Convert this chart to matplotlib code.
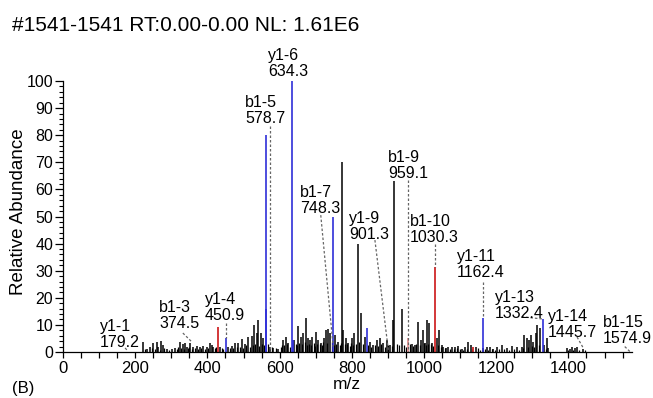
import matplotlib
matplotlib.use("Agg")
import matplotlib.pyplot as plt
from matplotlib.ticker import MultipleLocator

plt.rcParams['font.family'] = ['Liberation Sans', 'DejaVu Sans']

# ---------------- data ----------------
title_text = "#1541-1541 RT:0.00-0.00 NL: 1.61E6"

noise_mz = [222, 233.5, 241, 250, 259.5, 264, 270.6, 276, 287, 301, 309, 324, 331.5, 338, 342.5,
            352, 361, 370, 379.5, 388.6, 398, 407, 412, 416, 435, 458, 467, 476, 485.6, 495, 504,
            513, 522.7, 529, 536.5, 541, 547.6, 555, 573, 582.5, 596, 610, 617, 624, 641, 652, 659,
            666, 672, 678, 684, 690.6, 700, 707, 714.7, 724, 728.5, 735, 739.6, 753.5, 762.6, 772,
            776.5, 783, 790, 800, 807, 816, 826, 836.6, 850, 859.6, 869, 878, 887, 896.6, 905.8,
            915, 917.5, 938, 966, 975, 984, 991, 996, 1003, 1009, 1015, 1021, 1035, 1042, 1049,
            1053, 1061, 1067, 1077, 1086, 1095, 1104, 1114, 1123, 1129, 1144, 1164, 1173.6, 1183,
            1192, 1201, 1215, 1229, 1243, 1257, 1270.6, 1278, 1284.5, 1291, 1296, 1303, 1309, 1314,
            1321, 1333, 1340, 1344, 1395, 1404, 1411, 1418, 1423, 1441]
noise_int = [3.8, 1, 2, 3.4, 3.8, 2, 4.2, 2.6, 1, 1, 1.4, 3.8, 2.8, 3.2, 2,
             3.2, 2, 2.3, 1.8, 2.2, 2, 3.2, 2.6, 1.7, 2, 2, 2.3, 3.2, 3.4, 4.7, 2.8,
             5.7, 5.9, 10, 6.9, 11.8, 7.1, 5.2, 2, 1.4, 1, 4.4, 5.7, 3.2, 4.4, 9.6, 5.7,
             7.1, 12.4, 5, 4.4, 5.7, 7.5, 4.4, 3.2, 5, 8.1, 8.4, 6.9, 6.3, 3.8, 70,
             8.1, 5, 3.2, 5, 6.9, 40, 14.4, 5.7, 3.8, 2.6, 4.4, 5, 3.2, 4.4, 2.6,
             11.8, 63, 16, 3, 2.6, 11.2, 4.4, 8, 3.2, 11.8, 10.6, 3.2, 5, 8.1, 2.6,
             2, 1.4, 1.7, 2, 1.7, 2.2, 1, 1.7, 3.8, 2.6, 2, 1.4, 1.7, 2,
             1, 2, 2.6, 1.4, 2.2, 1.7, 2, 6.3, 5, 4.4, 6.3, 3.8, 6.9, 10,
             8.7, 2.6, 5, 1.4, 1.4, 1, 2, 1.4, 2, 1]

# small baseline clutter peaks
clutter_mz = [228, 246, 255, 268, 281, 293, 315, 319, 328, 335, 346, 349, 356, 365, 375, 383,
              393, 402, 420, 425, 440, 444, 462, 471, 481, 490, 499, 508, 518, 526, 533, 544,
              551, 558, 567, 578, 590, 603, 606, 613, 621, 628, 645, 648, 655, 662, 669, 675,
              681, 687, 694, 697, 704, 711, 718, 721, 732, 744, 751, 757, 766, 769, 780, 787,
              794, 797, 804, 811, 820, 832, 846, 854, 864, 873, 882, 892, 900, 910, 925, 930,
              945, 950, 962, 970, 979, 988, 999, 1006, 1012, 1018, 1025, 1038, 1046, 1057, 1072,
              1082, 1091, 1100, 1109, 1118, 1133, 1150, 1155, 1168, 1178, 1188, 1196, 1207, 1221,
              1236, 1250, 1263, 1275, 1287, 1299, 1306, 1318, 1337, 1400, 1414, 1430, 1446]
clutter_int = [1.0, 1.5, 1.2, 0.8, 1.4, 0.8, 1.2, 1.8, 1.5, 1.0, 1.3, 1.7, 1.2, 1.5, 1.0, 1.4,
               1.2, 1.6, 1.3, 1.8, 1.5, 1.2, 1.6, 1.3, 1.8, 2.0, 1.5, 2.4, 2.0, 2.5, 3.0, 2.2,
               3.1, 2.4, 2.8, 1.8, 1.5, 2.0, 2.6, 2.4, 2.8, 2.0, 3.0, 2.5, 3.2, 2.8, 3.6, 2.4,
               3.0, 2.6, 3.4, 2.2, 2.8, 3.0, 2.4, 3.6, 3.2, 3.8, 2.6, 3.0, 2.4, 3.4, 2.8, 3.0,
               2.2, 3.2, 2.6, 3.0, 3.6, 2.8, 2.4, 2.0, 2.6, 2.2, 2.8, 2.0, 2.4, 2.2, 3.0, 2.6,
               2.4, 2.0, 2.8, 2.2, 3.0, 2.6, 3.2, 2.4, 2.8, 3.0, 2.2, 2.6, 2.0, 1.4, 1.2,
               1.0, 1.3, 1.1, 0.9, 1.2, 1.0, 1.3, 0.9, 1.1, 0.8, 1.2, 0.9, 1.0, 1.2,
               0.8, 1.0, 0.9, 1.4, 2.0, 2.2, 1.8, 2.4, 1.2, 0.8, 0.9, 0.8, 0.7]

blue_mz = [450.9, 561.5, 563.5, 634.3, 636, 748.3, 842, 1162.4, 1329]
blue_int = [5.2, 80, 16, 100, 4.4, 50, 9, 12.5, 12.2]

red_mz = [428.5, 1030.3, 1137]
red_int = [9.3, 31.5, 2]

pink_mz = [957]
pink_int = [5]

ion_names = ["y1-1", "b1-3", "y1-4", "b1-5", "y1-6", "b1-7", "y1-9", "b1-9",
             "b1-10", "y1-11", "y1-13", "y1-14", "b1-15"]
ion_mz_text = ["179.2", "374.5", "450.9", "578.7", "634.3", "748.3", "901.3", "959.1",
               "1030.3", "1162.4", "1332.4", "1445.7", "1574.9"]

# label anchor (left x in m/z, baseline of the m/z line in %)
label_x = [102.5, 267, 393, 504, 568, 657, 792, 900, 961, 1091, 1197, 1343, 1496]
label_y = [1.96, 8.73, 11.8, 84.6, 101.8, 51.4, 41.8, 64.1, 40.7, 27.8, 12.4, 5.6, 3.2]

# dashed connector lines (x0, y0, x1, y1)
connectors = [(172, 1.5, 179.2, 0.4), (332, 7.0, 357, 3.7), (450.9, 10.7, 450.9, 5.2),
              (574, 83.5, 574, 0), (714, 50.5, 748.3, 2), (864, 41.3, 901.3, 0.5),
              (956, 63.5, 956, 0), (1030.3, 40, 1030.3, 31.5), (1162.4, 26, 1162.4, 12.5),
              (1270, 13, 1328, 12.2), (1424, 5.5, 1441, 1.5), (1556, 2, 1570, 0.2)]

# ---------------- figure ----------------
W, H = 653, 398
fig = plt.figure(figsize=(W / 100, H / 100), dpi=100)
ax = fig.add_axes([63 / W, 1 - 352 / H, (631.6 - 63) / W, (352 - 81) / H])

ax.vlines(clutter_mz, 0, clutter_int, color='black', lw=0.9)
ax.vlines(noise_mz, 0, noise_int, color='black', lw=1.1)
ax.vlines(pink_mz, 0, pink_int, color='#e08a8a', lw=1.2)
ax.vlines(red_mz, 0, red_int, color='#d0282a', lw=1.3)
ax.vlines(blue_mz, 0, blue_int, color='#2f2fd8', lw=1.2)

for (x0, y0, x1, y1) in connectors:
    ax.plot([x0, x1], [y0, y1], color='#666666', lw=0.9, ls=(0, (2, 1.6)), clip_on=False)

for name, mzt, lx, ly in zip(ion_names, ion_mz_text, label_x, label_y):
    ax.text(lx, ly, mzt, fontsize=11.5, ha='left', va='baseline', clip_on=False)
    ax.annotate(name, xy=(lx, ly), xytext=(0, 11.5), textcoords='offset points',
                fontsize=11.5, ha='left', va='baseline', annotation_clip=False)

ax.set_xlim(0, 1575)
ax.set_ylim(0, 100)
for s in ['top', 'right']:
    ax.spines[s].set_visible(False)
for s in ['left', 'bottom']:
    ax.spines[s].set_linewidth(0.9)

ax.xaxis.set_major_locator(MultipleLocator(200))
ax.xaxis.set_minor_locator(MultipleLocator(50))
ax.yaxis.set_major_locator(MultipleLocator(10))
ax.yaxis.set_minor_locator(MultipleLocator(2))
ax.tick_params(axis='x', which='both', length=4.5, width=0.9, direction='out', labelsize=12, pad=2)
ax.tick_params(axis='y', which='major', length=6, width=0.9, labelsize=11.5, pad=1)
ax.tick_params(axis='y', which='minor', length=3, width=0.8)

ax.set_xlabel("m/z", fontsize=12.5, labelpad=1)
fig.text(18.5 / W, 1 - 212 / H, "Relative Abundance", rotation=90, fontsize=13.5,
         ha='center', va='center')
fig.text(12 / W, 1 - 30.7 / H, title_text, fontsize=15, ha='left', va='baseline')
fig.text(12 / W, 1 - 393 / H, "(B)", fontsize=12, ha='left', va='baseline')

fig.savefig("out.png", dpi=100)
